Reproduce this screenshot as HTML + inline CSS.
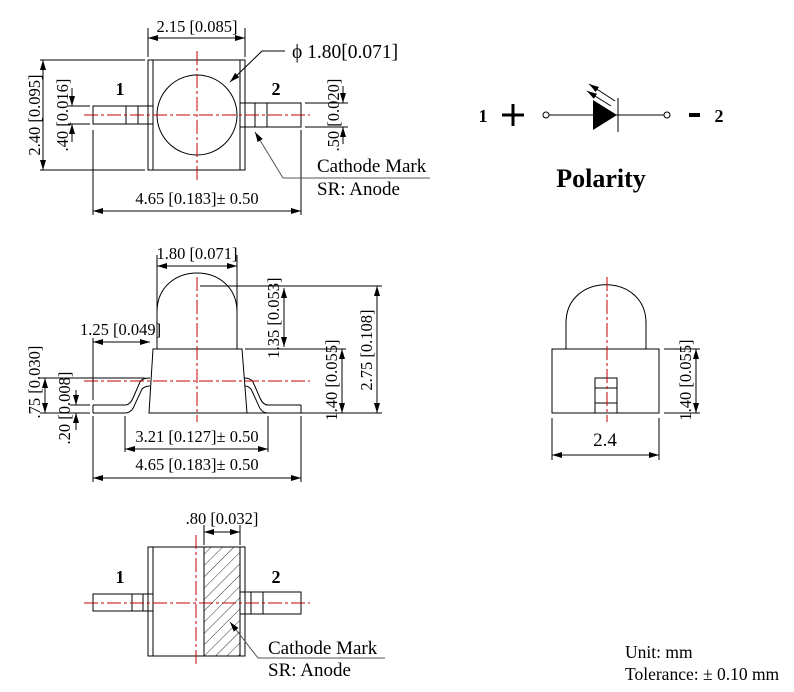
<!DOCTYPE html>
<html><head><meta charset="utf-8"><style>
html,body{margin:0;padding:0;background:#fff}
svg{display:block}
text{font-family:"Liberation Serif",serif;fill:#000}
.b{font-weight:bold}
</style></head><body>
<svg width="794" height="692" viewBox="0 0 794 692" xmlns="http://www.w3.org/2000/svg">
<defs>
<marker id="a" viewBox="0 0 10 6" refX="10" refY="3" markerWidth="10" markerHeight="6" orient="auto-start-reverse" markerUnits="userSpaceOnUse"><path d="M0,0 L10,3 L0,6 z" fill="#000"/></marker>
<pattern id="h" width="8" height="8" patternUnits="userSpaceOnUse" patternTransform="rotate(45)"><line x1="0" y1="0" x2="0" y2="8" stroke="#000" stroke-width="0.8"/></pattern>
</defs>
<g fill="none" stroke="#000" stroke-width="1">
<rect x="148" y="60" width="97" height="110"/>
<line x1="153" y1="60" x2="153" y2="170"/><line x1="240" y1="60" x2="240" y2="170"/>
<circle cx="197" cy="115" r="40"/>
<rect x="93" y="106" width="60" height="18"/><line x1="126" y1="106" x2="126" y2="124"/><line x1="138" y1="106" x2="138" y2="124"/>
<rect x="240" y="103" width="61" height="24"/><line x1="255" y1="103" x2="255" y2="127"/><line x1="267" y1="103" x2="267" y2="127"/>
<line x1="148" y1="28" x2="148" y2="57"/><line x1="245" y1="28" x2="245" y2="57"/>
<line x1="148" y1="38" x2="245" y2="38" marker-start="url(#a)" marker-end="url(#a)"/>
<polyline points="285,51 262,51 230,82" marker-end="url(#a)"/>
<line x1="40" y1="60" x2="145" y2="60"/><line x1="40" y1="170" x2="145" y2="170"/>
<line x1="43" y1="60" x2="43" y2="170" marker-start="url(#a)" marker-end="url(#a)"/>
<line x1="68" y1="106" x2="90" y2="106"/><line x1="68" y1="124" x2="90" y2="124"/>
<line x1="72" y1="88" x2="72" y2="106" marker-end="url(#a)"/><line x1="72" y1="142" x2="72" y2="124" marker-end="url(#a)"/>
<line x1="305" y1="103" x2="348" y2="103"/><line x1="305" y1="127" x2="348" y2="127"/>
<line x1="343" y1="86" x2="343" y2="103" marker-end="url(#a)"/><line x1="343" y1="144" x2="343" y2="127" marker-end="url(#a)"/>
<line x1="93" y1="130" x2="93" y2="215"/><line x1="301" y1="130" x2="301" y2="215"/>
<line x1="93" y1="211" x2="301" y2="211" marker-start="url(#a)" marker-end="url(#a)"/>
<polyline points="255,132 283,178 430,178" marker-start="url(#a)" stroke="#555"/>
<circle cx="546" cy="115" r="3"/><circle cx="667" cy="115" r="3"/>
<line x1="549" y1="115" x2="664" y2="115"/>
<line x1="618" y1="98" x2="618" y2="132"/>
<line x1="615" y1="101" x2="589" y2="84" marker-end="url(#a)"/>
<line x1="611" y1="106" x2="587" y2="91" marker-end="url(#a)"/>
<path d="M157,315 L157,312 C157,260 237,260 237,312 L237,349"/>
<line x1="157" y1="312" x2="157" y2="349"/>
<path d="M153,349 L242,349 L247,413 L149,413 Z"/>
<path d="M93,405 L125,405 Q130,405 133,398 L140,382 Q142,378 150,378 M93,413 L125,413 Q132,413 135,404 L142,389 Q145,386 150,386 M93,405 L93,413"/>
<path d="M301,405 L268,405 Q263,405 260,398 L253,382 Q251,378 244,378 M301,413 L268,413 Q261,413 258,404 L251,389 Q248,386 245,386 M301,405 L301,413"/>
<line x1="157" y1="255" x2="157" y2="312"/><line x1="237" y1="255" x2="237" y2="312"/>
<line x1="157" y1="266" x2="237" y2="266" marker-start="url(#a)" marker-end="url(#a)"/>
<line x1="93" y1="338" x2="93" y2="400"/>
<line x1="93" y1="342" x2="150" y2="342" marker-start="url(#a)" marker-end="url(#a)"/>
<line x1="200" y1="286" x2="382" y2="286"/>
<line x1="284" y1="288" x2="284" y2="347" marker-start="url(#a)" marker-end="url(#a)"/>
<line x1="245" y1="349" x2="346" y2="349"/>
<line x1="342" y1="349" x2="342" y2="413" marker-start="url(#a)" marker-end="url(#a)"/>
<line x1="377" y1="286" x2="377" y2="413" marker-start="url(#a)" marker-end="url(#a)"/>
<line x1="245" y1="413" x2="382" y2="413"/>
<line x1="40" y1="378" x2="145" y2="378"/><line x1="40" y1="413" x2="90" y2="413"/>
<line x1="45" y1="378" x2="45" y2="413" marker-start="url(#a)" marker-end="url(#a)"/>
<line x1="70" y1="405" x2="90" y2="405"/>
<line x1="76" y1="390" x2="76" y2="405" marker-end="url(#a)"/><line x1="76" y1="430" x2="76" y2="413" marker-end="url(#a)"/>
<line x1="125" y1="416" x2="125" y2="452"/><line x1="268" y1="416" x2="268" y2="452"/>
<line x1="125" y1="449" x2="268" y2="449" marker-start="url(#a)" marker-end="url(#a)"/>
<line x1="93" y1="416" x2="93" y2="482"/><line x1="301" y1="416" x2="301" y2="482"/>
<line x1="93" y1="478" x2="301" y2="478" marker-start="url(#a)" marker-end="url(#a)"/>
<path d="M566,349 L566,323 C566,272 646,272 646,323 L646,349"/>
<rect x="552" y="349" width="107" height="64"/>
<rect x="595" y="378" width="22" height="35"/><line x1="595" y1="388" x2="617" y2="388"/><line x1="595" y1="403" x2="617" y2="403"/>
<line x1="664" y1="349" x2="700" y2="349"/><line x1="664" y1="413" x2="700" y2="413"/>
<line x1="696" y1="349" x2="696" y2="413" marker-start="url(#a)" marker-end="url(#a)"/>
<line x1="552" y1="418" x2="552" y2="460"/><line x1="659" y1="418" x2="659" y2="460"/>
<line x1="552" y1="455" x2="659" y2="455" marker-start="url(#a)" marker-end="url(#a)"/>
<rect x="204" y="547" width="36" height="109" fill="url(#h)"/>
<rect x="148" y="547" width="97" height="109"/>
<line x1="153" y1="547" x2="153" y2="656"/><line x1="240" y1="547" x2="240" y2="656"/>
<line x1="204" y1="547" x2="204" y2="656"/>
<rect x="93" y="594" width="60" height="17"/><line x1="132" y1="594" x2="132" y2="611"/><line x1="143" y1="594" x2="143" y2="611"/>
<rect x="240" y="592" width="61" height="22"/><line x1="251" y1="592" x2="251" y2="614"/><line x1="263" y1="592" x2="263" y2="614"/>
<line x1="204" y1="525" x2="204" y2="545"/><line x1="240" y1="525" x2="240" y2="545"/>
<line x1="204" y1="532" x2="240" y2="532" marker-start="url(#a)" marker-end="url(#a)"/>
<polyline points="230,622 258,658 385,658" marker-start="url(#a)" stroke="#555"/>
</g>
<g stroke="#c00000" stroke-width="1" stroke-dasharray="14,3,3,3" fill="none">
<line x1="84" y1="115" x2="310" y2="115"/><line x1="197" y1="51" x2="197" y2="180"/>
<line x1="84" y1="381" x2="310" y2="381"/><line x1="197" y1="277" x2="197" y2="422"/>
<line x1="607" y1="277" x2="607" y2="422"/>
<line x1="84" y1="603" x2="310" y2="603"/><line x1="196" y1="535" x2="196" y2="667"/>
</g>
<polygon points="593,100 593,130 617,115" fill="#000"/>
<line x1="502" y1="115" x2="524" y2="115" stroke="#000" stroke-width="3"/>
<line x1="513" y1="104" x2="513" y2="126" stroke="#000" stroke-width="3"/>
<line x1="689" y1="115" x2="700" y2="115" stroke="#000" stroke-width="4"/>
<g font-size="16.5">
<text x="197" y="32" text-anchor="middle">2.15 [0.085]</text>
<text x="292" y="58" font-size="19.5">ϕ 1.80[0.071]</text>
<text transform="translate(40,115) rotate(-90)" text-anchor="middle">2.40 [0.095]</text>
<text transform="translate(68,115) rotate(-90)" text-anchor="middle">.40 [0.016]</text>
<text transform="translate(339,115) rotate(-90)" text-anchor="middle">.50 [0.020]</text>
<text x="197" y="204" text-anchor="middle">4.65 [0.183]± 0.50</text>
<text x="317" y="172" font-size="19">Cathode Mark</text>
<text x="317" y="195" font-size="19">SR: Anode</text>
<text x="197" y="259" text-anchor="middle">1.80 [0.071]</text>
<text x="80" y="335">1.25 [0.049]</text>
<text transform="translate(279,318) rotate(-90)" text-anchor="middle">1.35 [0.053]</text>
<text transform="translate(337,380) rotate(-90)" text-anchor="middle">1.40 [0.055]</text>
<text transform="translate(372,350) rotate(-90)" text-anchor="middle">2.75 [0.108]</text>
<text transform="translate(40,382) rotate(-90)" text-anchor="middle">.75 [0.030]</text>
<text transform="translate(70,408) rotate(-90)" text-anchor="middle">.20 [0.008]</text>
<text x="197" y="442" text-anchor="middle">3.21 [0.127]± 0.50</text>
<text x="197" y="470" text-anchor="middle">4.65 [0.183]± 0.50</text>
<text transform="translate(691,380) rotate(-90)" text-anchor="middle">1.40 [0.055]</text>
<text x="605" y="446" text-anchor="middle" font-size="19">2.4</text>
<text x="222" y="524" text-anchor="middle">.80 [0.032]</text>
<text x="268" y="654" font-size="19">Cathode Mark</text>
<text x="268" y="676" font-size="19">SR: Anode</text>
<text x="625" y="658" font-size="17.5">Unit: mm</text>
<text x="625" y="680" font-size="17.5">Tolerance: ± 0.10 mm</text>
</g>
<g font-size="18">
<text x="120" y="95" text-anchor="middle" class="b">1</text>
<text x="276" y="95" text-anchor="middle" class="b">2</text>
<text x="120" y="583" text-anchor="middle" class="b">1</text>
<text x="276" y="583" text-anchor="middle" class="b">2</text>
<text x="483" y="122" text-anchor="middle" class="b">1</text>
<text x="719" y="122" text-anchor="middle" class="b">2</text>
<text x="601" y="187" text-anchor="middle" class="b" font-size="26">Polarity</text>
</g>
</svg>
</body></html>
